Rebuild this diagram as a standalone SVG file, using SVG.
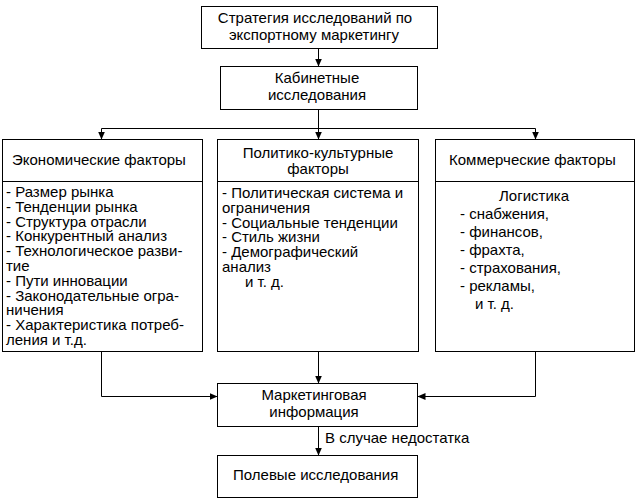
<svg xmlns="http://www.w3.org/2000/svg" width="636" height="503" viewBox="0 0 636 503">
<style>
.box{fill:#fff;stroke:#000;stroke-width:1}
.ln{fill:none;stroke:#000;stroke-width:1}
text{font-family:"Liberation Sans",Arial,sans-serif;font-size:15px;fill:#000}
.c{text-anchor:middle}
</style>
<defs>
<marker id="ah" markerWidth="8" markerHeight="8" viewBox="0 0 8 8" refX="8" refY="4" orient="auto" markerUnits="userSpaceOnUse">
<path d="M0,0.5 L8,4 L0,7.5 Z" fill="#000"/>
</marker>
</defs>
<rect width="636" height="503" fill="#fff"/>
<g id="connectors">
<line class="ln" x1="318.5" y1="48.5" x2="318.5" y2="66.5" marker-end="url(#ah)"/>
<polyline class="ln" points="318.5,109.5 318.5,128.5"/>
<polyline class="ln" points="101.5,128.5 535.5,128.5"/>
<line class="ln" x1="101.5" y1="128.5" x2="101.5" y2="139.5" marker-end="url(#ah)"/>
<line class="ln" x1="318.5" y1="128.5" x2="318.5" y2="139.5" marker-end="url(#ah)"/>
<line class="ln" x1="535.5" y1="128.5" x2="535.5" y2="139.5" marker-end="url(#ah)"/>
<polyline class="ln" points="101.5,351.5 101.5,396.5 217.5,396.5" marker-end="url(#ah)"/>
<line class="ln" x1="318.5" y1="351.5" x2="318.5" y2="383.5" marker-end="url(#ah)"/>
<polyline class="ln" points="535.5,351.5 535.5,396.5 417.5,396.5" marker-end="url(#ah)"/>
<line class="ln" x1="318.5" y1="426.5" x2="318.5" y2="455.5" marker-end="url(#ah)"/>
<text x="325" y="443">В случае недостатка</text>
</g>
<g id="strategy">
<rect class="box" x="201.5" y="6.5" width="236" height="42"/>
<text class="c" y="23"><tspan x="315">Стратегия исследований по</tspan><tspan x="314" dy="17">экспортному маркетингу</tspan></text>
</g>
<g id="desk">
<rect class="box" x="220.5" y="66.5" width="197" height="43"/>
<text class="c" y="83"><tspan x="317">Кабинетные</tspan><tspan x="317" dy="17">исследования</tspan></text>
</g>
<g id="economic">
<rect class="box" x="2.5" y="139.5" width="200" height="212"/>
<line class="ln" x1="2.5" y1="181.5" x2="202.5" y2="181.5"/>
<text x="12" y="165">Экономические факторы</text>
<text y="197"><tspan x="6">- Размер рынка</tspan><tspan x="6" dy="14.8">- Тенденции рынка</tspan><tspan x="6" dy="14.8">- Структура отрасли</tspan><tspan x="6" dy="14.8">- Конкурентный анализ</tspan><tspan x="6" dy="14.8">- Технологическое разви-</tspan><tspan x="6" dy="14.8">тие</tspan><tspan x="6" dy="14.8">- Пути инновации</tspan><tspan x="6" dy="14.8">- Законодательные огра-</tspan><tspan x="6" dy="14.8">ничения</tspan><tspan x="6" dy="14.8">- Характеристика потреб-</tspan><tspan x="6" dy="14.8">ления и т.д.</tspan></text>
</g>
<g id="political">
<rect class="box" x="217.5" y="139.5" width="201" height="212"/>
<line class="ln" x1="217.5" y1="181.5" x2="418.5" y2="181.5"/>
<text class="c" y="158"><tspan x="318">Политико-культурные</tspan><tspan x="318" dy="16">факторы</tspan></text>
<text y="198"><tspan x="222">- Политическая система и</tspan><tspan x="222" dy="14.8">ограничения</tspan><tspan x="222" dy="14.8">- Социальные тенденции</tspan><tspan x="222" dy="14.8">- Стиль жизни</tspan><tspan x="222" dy="14.8">- Демографический</tspan><tspan x="222" dy="14.8">анализ</tspan><tspan x="245" dy="14.8">и т. д.</tspan></text>
</g>
<g id="commercial">
<rect class="box" x="435.5" y="139.5" width="199" height="212"/>
<line class="ln" x1="435.5" y1="181.5" x2="634.5" y2="181.5"/>
<text x="449" y="165">Коммерческие факторы</text>
<text y="201"><tspan class="c" x="534">Логистика</tspan><tspan x="460" dy="18">- снабжения,</tspan><tspan x="460" dy="18">- финансов,</tspan><tspan x="460" dy="18">- фрахта,</tspan><tspan x="460" dy="18">- страхования,</tspan><tspan x="460" dy="18">- рекламы,</tspan><tspan x="475" dy="18">и т. д.</tspan></text>
</g>
<g id="marketing">
<rect class="box" x="217.5" y="383.5" width="200" height="43"/>
<text class="c" y="400"><tspan x="314">Маркетинговая</tspan><tspan x="314" dy="17">информация</tspan></text>
</g>
<g id="field">
<rect class="box" x="217.5" y="455.5" width="200" height="42"/>
<text x="233" y="480">Полевые исследования</text>
</g>
</svg>
